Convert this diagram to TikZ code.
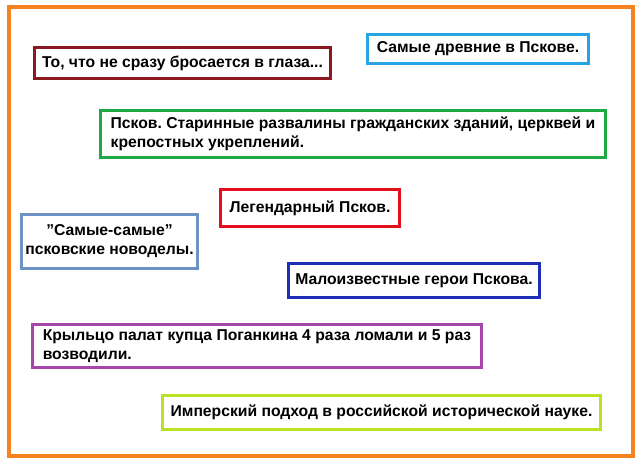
\documentclass[tikz,border=0pt]{standalone}
\usepackage{fontspec}
\setmainfont{Liberation Sans}[Ligatures=ResetAll]
\usepackage{tikz}
\frenchspacing

\definecolor{frameorange}{HTML}{F5821F}
\definecolor{hiddenred}{HTML}{8A1A1F}
\definecolor{oldestblue}{HTML}{26A4E3}
\definecolor{ruinsgreen}{HTML}{1DAA45}
\definecolor{legendred}{HTML}{E3101C}
\definecolor{remakesblue}{HTML}{6C93C4}
\definecolor{heroesblue}{HTML}{1F2FB5}
\definecolor{porchpurple}{HTML}{A546AA}
\definecolor{empiregreen}{HTML}{B8E223}

\tikzset{
  topic/.style={draw, line width=2.2pt, fill=white, inner sep=0pt, align=left,
    font=\bfseries\fontsize{15.7}{19}\selectfont}
}

\begin{document}
\begin{tikzpicture}[x=1pt, y=-1pt]
            \useasboundingbox (0,0) rectangle (640,466);
            \draw [frameorange, line width = 3.5pt] (9,7) rectangle (633,456);
            \node [topic, draw = hiddenred, minimum width = 296, minimum height = 31]
                  (hidden-box) at (182.5,63) {То, что не сразу бросается в глаза...};
            \node [topic, draw = oldestblue, minimum width = 221, minimum height = 29]
                  (oldest-box) at (478,49) {Самые древние в Пскове.};
            \node [topic, draw = ruinsgreen, minimum width = 505, minimum height = 47]
                  (ruins-box) at (353,134) {Псков. Старинные развалины гражданских зданий, церквей и\\крепостных укреплений.};
            \node [topic, draw = legendred, minimum width = 179, minimum height = 37]
                  (legend-box) at (310,208) {Легендарный Псков.};
            \node [topic, draw = remakesblue, minimum width = 176, minimum height = 54, align = center]
                  (remakes-box) at (109.5,241.5) {"Самые-самые"\\псковские новоделы.};
            \node [topic, draw = heroesblue, minimum width = 251, minimum height = 34]
                  (heroes-box) at (414,280.5) {Малоизвестные герои Пскова.};
            \node [topic, draw = porchpurple, minimum width = 449, minimum height = 43]
                  (porch-box) at (257,346) {Крыльцо палат купца Поганкина 4 раза ломали и 5 раз\\возводили.};
            \node [topic, draw = empiregreen, minimum width = 438, minimum height = 34]
                  (empire-box) at (381.5,412.5) {Имперский подход в российской исторической науке.};
\end{tikzpicture}
\end{document}
